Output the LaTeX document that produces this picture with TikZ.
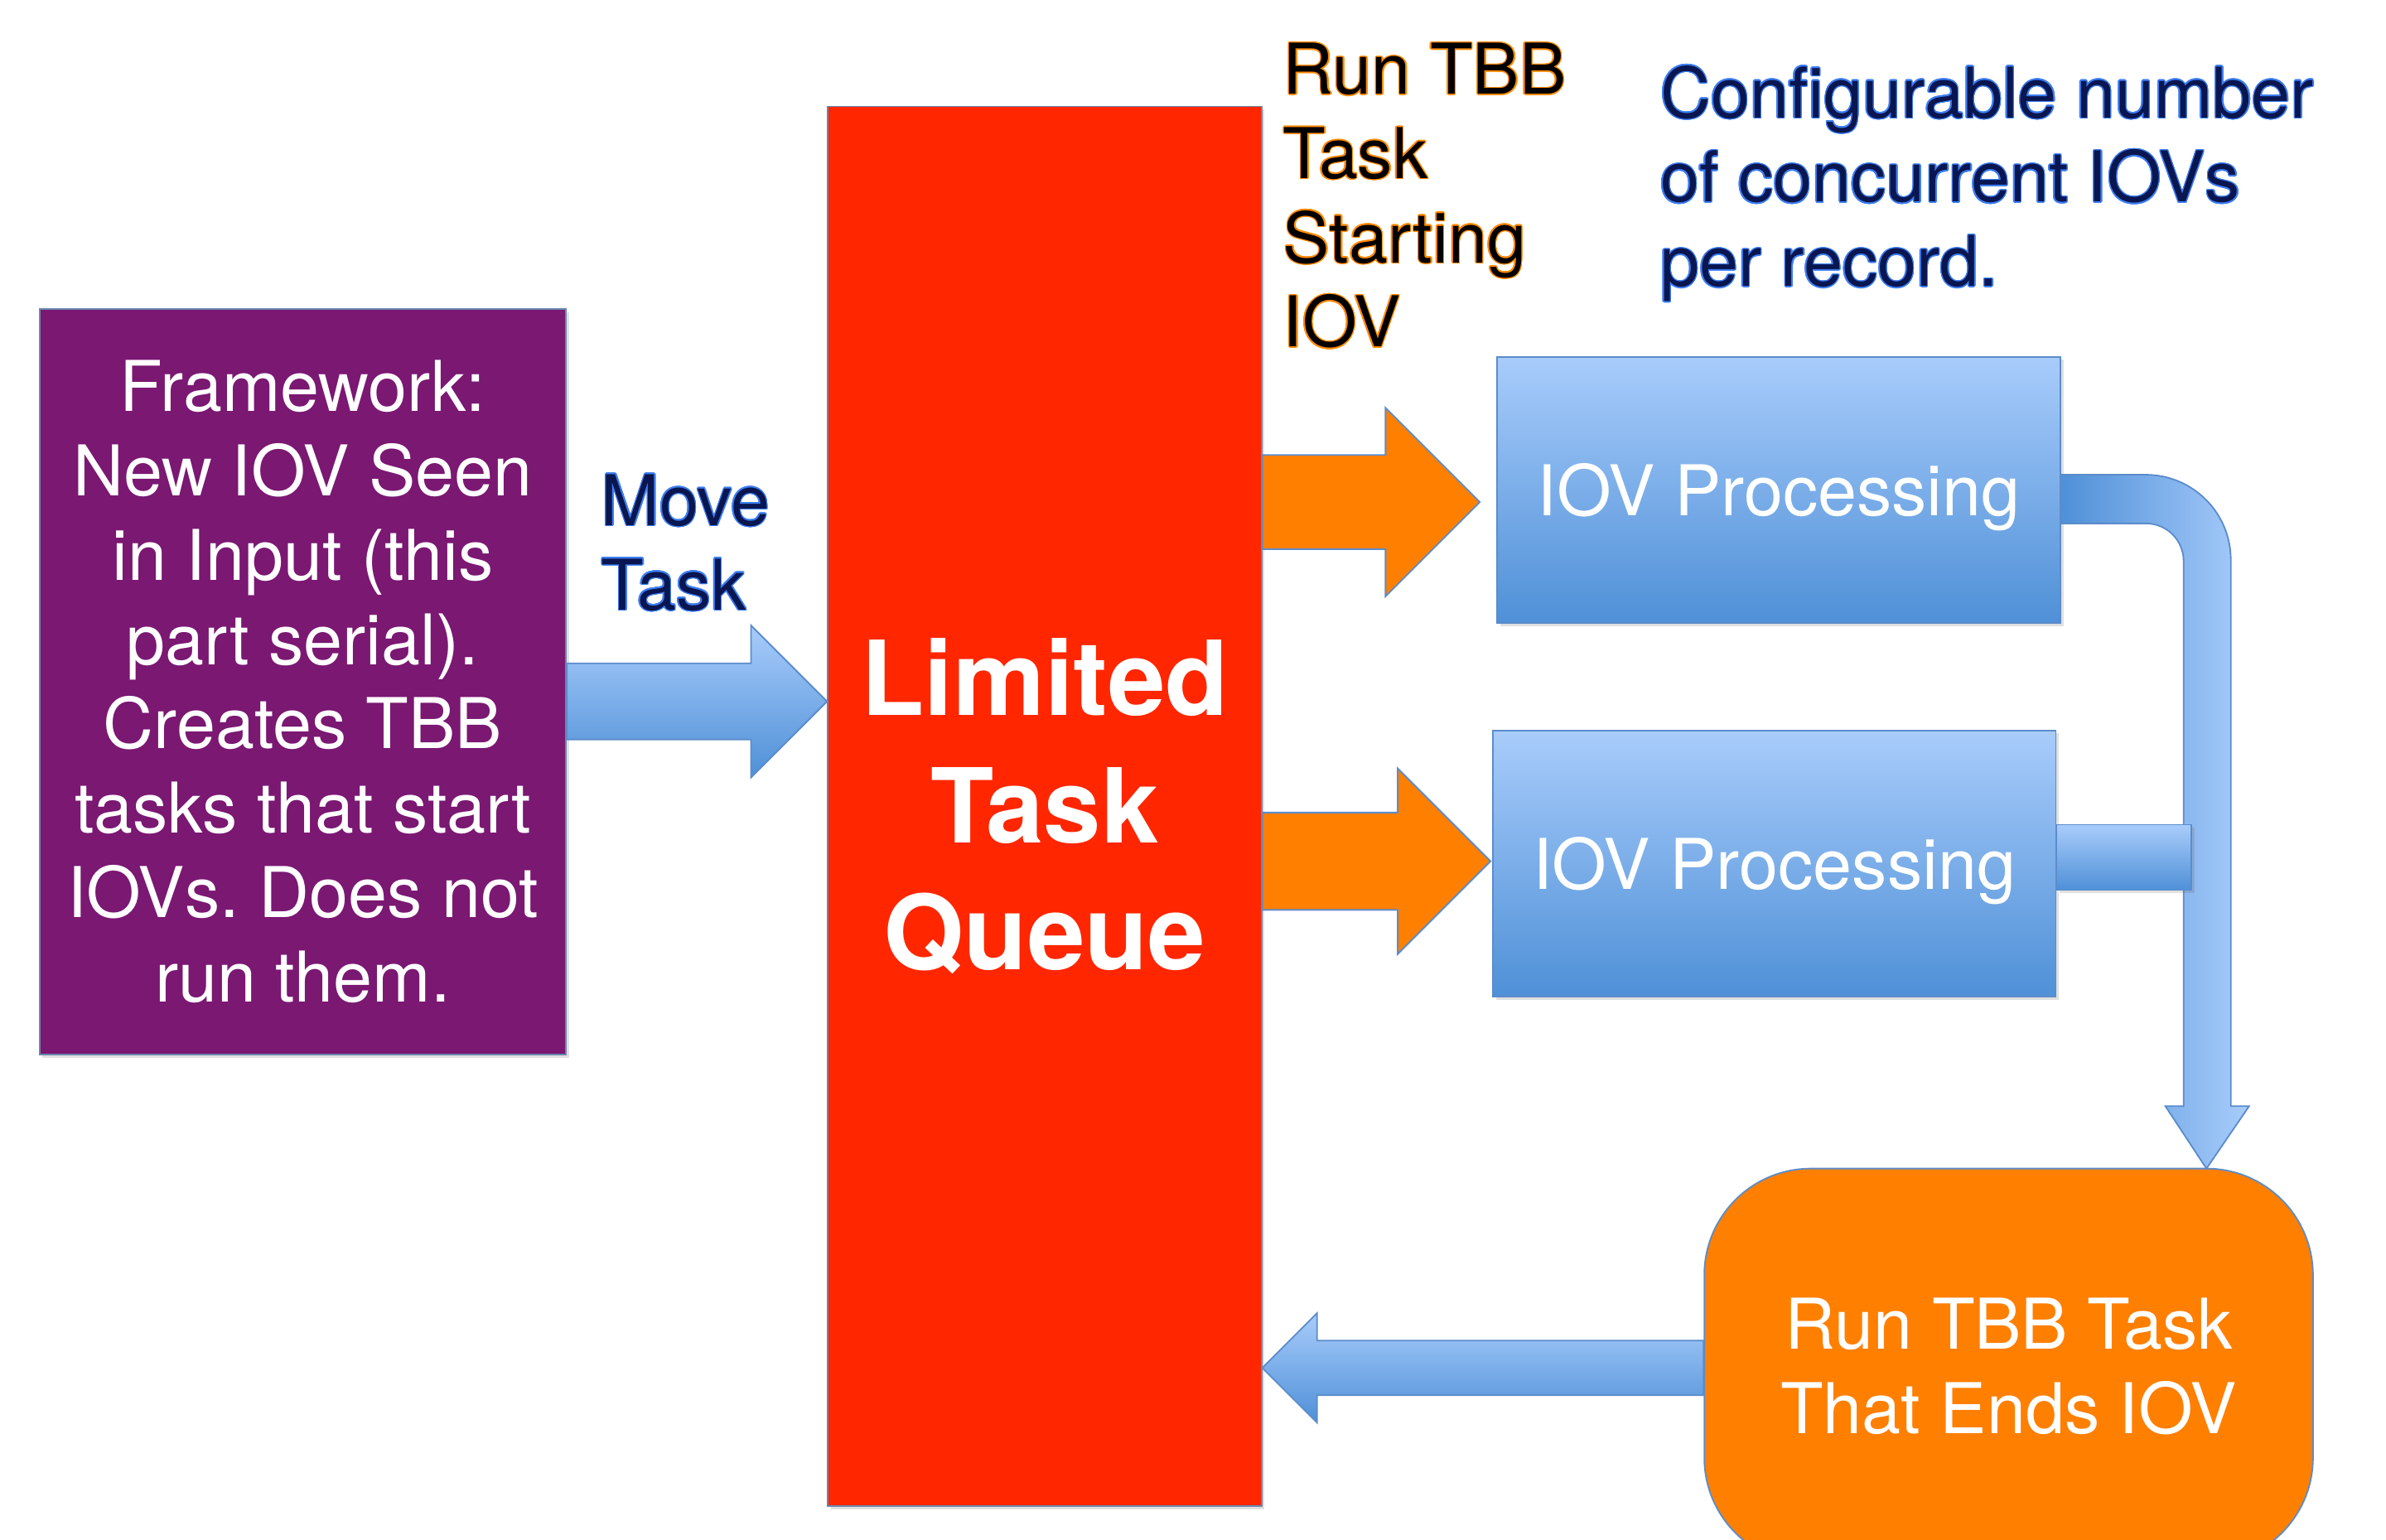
\documentclass[tikz,border=0pt]{standalone}
\usepackage{fontspec}
\setmainfont{TeX Gyre Heros}
\usepackage[copies]{contour}
\contourlength{0.8pt}
\usetikzlibrary{calc,shadows}
\frenchspacing

\definecolor{fwpurple}{HTML}{7A1872}
\definecolor{qred}{HTML}{FF2600}
\definecolor{aorange}{HTML}{FF7F00}
\definecolor{bluetop}{HTML}{A8CCFB}
\definecolor{bluebot}{HTML}{4F90D7}
\definecolor{edgeblue}{HTML}{5B8CCB}
\definecolor{navytext}{HTML}{0A1650}
\definecolor{glowblue}{HTML}{3D7EF2}
\definecolor{gloworange}{HTML}{FF8A00}

% horizontal block arrow: style, tail point, tip point, shaft half-width,
% head half-width, head length (negative for a left-pointing arrow)
\newcommand\hblockarrow[6]{%
  \path[#1] let \p1=(#2), \p2=(#3) in
    (\x1,{\y2+#4}) -- ({\x2-(#6)},{\y2+#4}) -- ({\x2-(#6)},{\y2+#5}) -- (\x2,\y2)
    -- ({\x2-(#6)},{\y2-(#5)}) -- ({\x2-(#6)},{\y2-(#4)}) -- (\x1,{\y2-(#4)}) -- cycle;}

\tikzset{
  txt/.style={font=\fontsize{46}{55.4}\selectfont},
  edge/.style={draw=edgeblue, line width=1pt},
  softshadow/.style={drop shadow={opacity=0.2, shadow xshift=2pt, shadow yshift=-2pt, fill=black!60}},
  fwbox/.style={edge, draw=edgeblue!60!gray, fill=fwpurple, softshadow, text=white, txt,
    align=center, minimum width=346pt, minimum height=490pt, inner sep=0pt},
  queuebox/.style={edge, draw=edgeblue!60!gray, fill=qred, softshadow, text=white,
    font=\bfseries\fontsize{68}{83.5}\selectfont, align=center,
    minimum width=285pt, minimum height=920pt, inner sep=0pt},
  procbox/.style={edge, top color=bluetop, bottom color=bluebot, softshadow, text=white, txt,
    text depth=0pt, minimum width=370pt, minimum height=175pt, inner sep=0pt},
  endbox/.style={edge, fill=aorange, rounded corners=70pt, text=white, txt, align=center,
    minimum width=400pt, minimum height=260pt, inner sep=0pt},
  bluearrow/.style={edge, top color=bluetop, bottom color=bluebot},
  orangearrow/.style={edge, fill=aorange},
  blueband/.style={edge, left color=bluebot, right color=bluetop},
  bluebar/.style={edge, top color=bluetop, bottom color=bluebot, softshadow},
}

\begin{document}
\begin{tikzpicture}[x=1pt, y=-1pt]
\fill[white] (0,0) rectangle (1568,1012);
\useasboundingbox (0,0) rectangle (1568,1012);
\clip (0,0) rectangle (1568,1012);

% boxes
\node[fwbox] (fw) at (199,448)
  {Framework:\\New IOV Seen\\in Input (this\\part serial).\\Creates TBB\\tasks that start\\IOVs. Does not\\run them.};
\node[queuebox] (q) at (686.5,530) {Limited\\Task\\Queue};
\node[procbox] (iov1) at (1169,322) {IOV Processing};
\node[procbox] (iov2) at (1166,567.5) {IOV Processing};
\node[endbox] (endbox) at (1320,898) {Run TBB Task\\That Ends IOV};

% labels
\node[txt, anchor=west, align=left, inner sep=0pt, text=navytext] (movelbl) at (395,357)
  {\contour{glowblue}{Move}\\\contour{glowblue}{Task}};
\node[txt, anchor=west, align=left, inner sep=0pt, text=black] (runlbl) at (843,129)
  {\contour{gloworange}{Run TBB}\\\contour{gloworange}{Task}\\\contour{gloworange}{Starting}\\\contour{gloworange}{IOV}};
\node[txt, anchor=west, align=left, inner sep=0pt, text=navytext] (conflbl) at (1091,121)
  {\contour{glowblue}{Configurable number}\\\contour{glowblue}{of concurrent IOVs}\\\contour{glowblue}{per record.}};

% connectors
\coordinate (t1) at ([xshift=-11pt]iov1.west);
\coordinate (t2) at ([xshift=-1pt]iov2.west);
\coordinate (bandtip) at (1450,768);

\hblockarrow{bluearrow}{fw.east}{q.west |- 0,461}{25pt}{50pt}{50pt}
\hblockarrow{orangearrow}{q.east}{t1 |- 0,330}{31pt}{62pt}{62pt}
\hblockarrow{orangearrow}{q.east}{t2 |- 0,566}{32pt}{61pt}{61pt}
\hblockarrow{bluearrow}{endbox.west}{q.east |- 0,899}{18pt}{36pt}{-36pt}

\path[blueband] (iov1.east |- 0,312) -- (1410,312)
  .. controls (1441,312) and (1466,337) .. (1466,368) -- (1466,727) -- (1478,727)
  -- (bandtip) -- (1423,727) -- (1435,727) -- (1435,369)
  .. controls (1435,355) and (1424,344) .. (1410,344) -- (iov1.east |- 0,344) -- cycle;
\path[bluebar] (iov2.east |- 0,542) rectangle (1440,585);
\end{tikzpicture}
\end{document}
